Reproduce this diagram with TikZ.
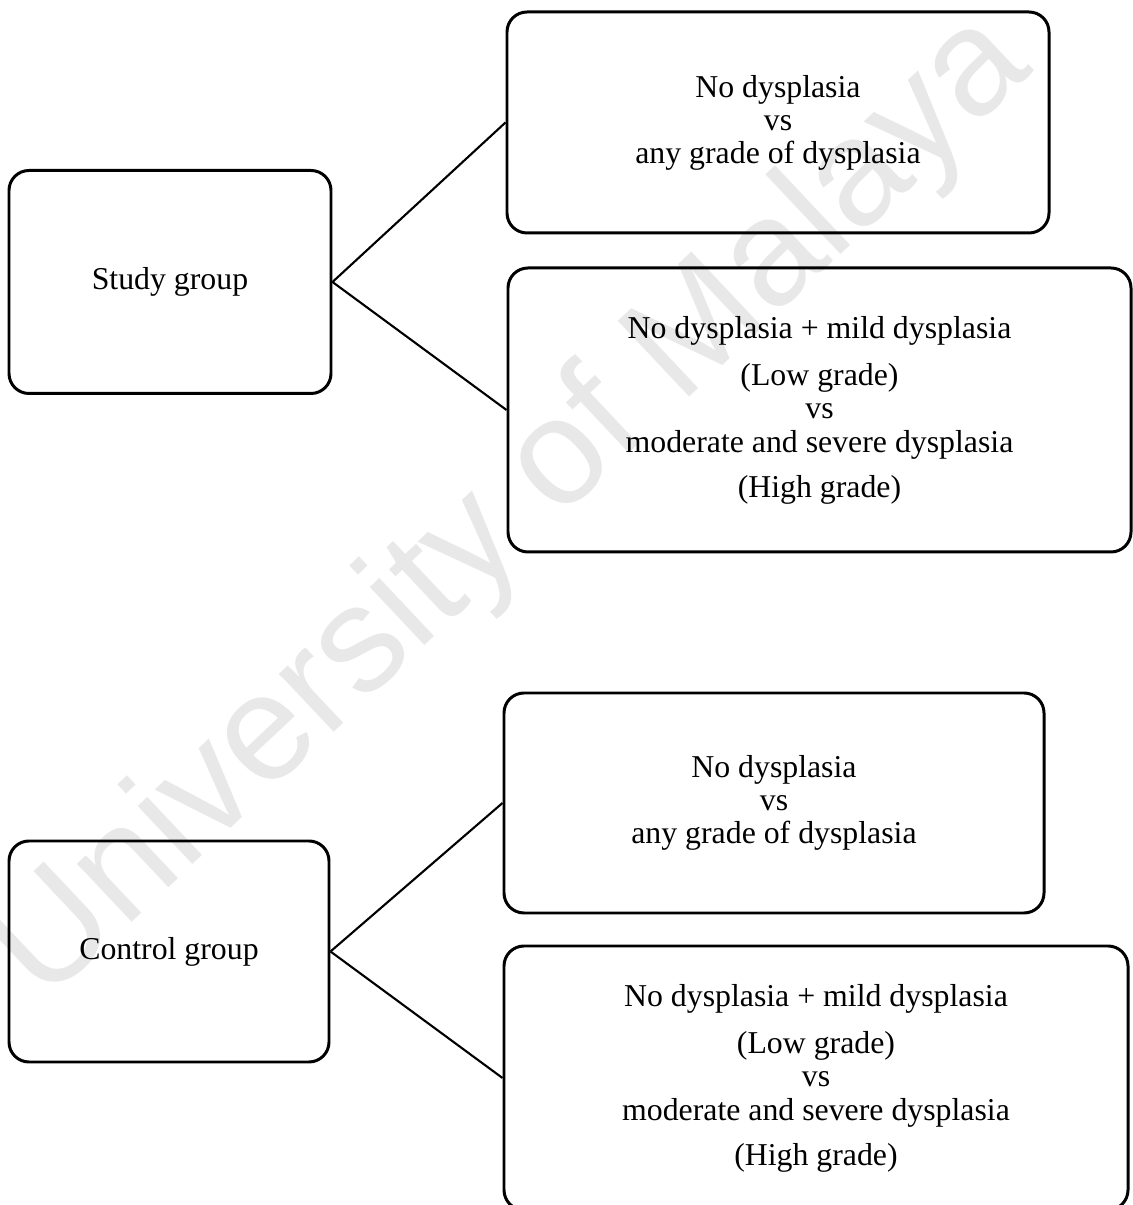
\documentclass[tikz,border=0pt]{standalone}
\usepackage{fontspec}
\setmainfont{Liberation Serif}
\newfontfamily\wmfont{Liberation Sans}
\usepackage{tikz}
\definecolor{wmgray}{gray}{0.91}

\begin{document}
\begin{tikzpicture}[every node/.style={font=\fontsize{18.1}{18.8}\selectfont}]
		\tikzset{groupbox/.style={rectangle, rounded corners=0.4cm, line width=1.7pt, draw=black, align=center, inner sep=0pt}}
		\tikzset{branch/.style={line width=1.2pt, draw=black}}
		
		\useasboundingbox (0,0) rectangle (22.66,24.1);
		\clip (0,0) rectangle (22.66,24.1);
		
		%watermark
		\node[font=\wmfont\fontsize{86}{86}\selectfont, text=wmgray, rotate=43.3, anchor=base] (wm) at (10.8,13.35) {University of Malaya};
		
		%study group
		\node[groupbox, minimum width=6.44cm, minimum height=4.46cm] (study) at (3.40,18.46) {Study group};
		\node[groupbox, minimum width=10.84cm, minimum height=4.42cm] (studyA) at (15.56,21.65) {No dysplasia\\ vs\\ any grade of dysplasia};
		\node[groupbox, minimum width=12.46cm, minimum height=5.68cm] (studyB) at (16.39,15.90) {No dysplasia + mild dysplasia\\[8pt] (Low grade)\\ vs\\[0.5pt] moderate and severe dysplasia\\[6.8pt] (High grade)};
		\path (study.east) edge[branch] (studyA.west);
		\path (study.east) edge[branch] (studyB.west);
		
		%control group
		\node[groupbox, minimum width=6.4cm, minimum height=4.42cm] (control) at (3.38,5.07) {Control group};
		\node[groupbox, minimum width=10.8cm, minimum height=4.4cm] (controlA) at (15.48,8.04) {No dysplasia\\ vs\\ any grade of dysplasia};
		\node[groupbox, minimum width=12.48cm, minimum height=5.28cm] (controlB) at (16.32,2.54) {No dysplasia + mild dysplasia\\[8pt] (Low grade)\\ vs\\[0.5pt] moderate and severe dysplasia\\[6.8pt] (High grade)};
		\path (control.east) edge[branch] (controlA.west);
		\path (control.east) edge[branch] (controlB.west);
		
	\end{tikzpicture}
\end{document}
